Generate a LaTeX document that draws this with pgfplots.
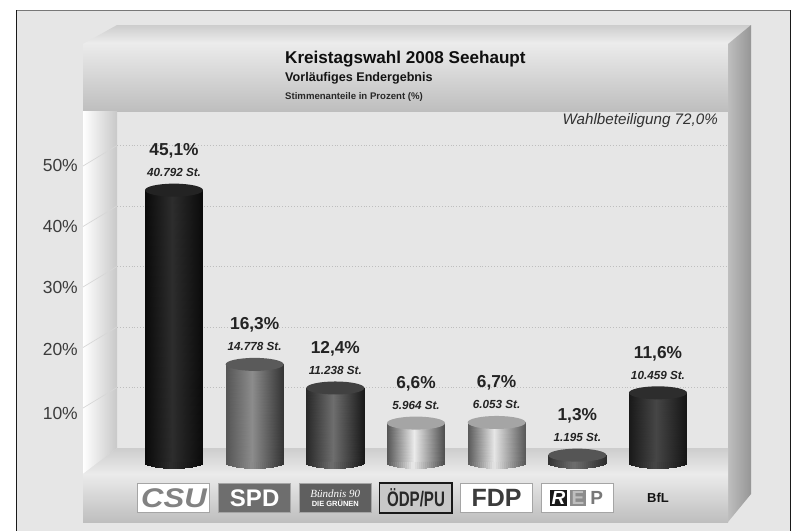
\documentclass[border=0pt]{standalone}
\usepackage{fontspec}
\setmainfont{Liberation Sans}
\newfontfamily\serifbf{Liberation Serif}
\usepackage{pgfplots}
\pgfplotsset{compat=1.18}
% grey levels (0-255)
\newcommand\dg[1]{\pgfmathsetmacro\tmpg{#1/255}\definecolor{g#1}{gray}{\tmpg}}
\dg{10}\dg{15}\dg{20}\dg{25}\dg{35}\dg{40}\dg{45}\dg{50}\dg{60}\dg{65}\dg{70}\dg{75}\dg{80}\dg{85}\dg{90}\dg{95}\dg{110}\dg{120}\dg{130}\dg{140}\dg{150}\dg{160}\dg{165}\dg{175}\dg{185}\dg{190}\dg{195}\dg{200}\dg{205}\dg{215}\dg{230}\dg{235}\dg{238}
\newcommand\defcyl[5]{%
  \pgfdeclareplotmark{bot#1}{%
    \foreach \i in {0,...,28}{%
      \pgfmathsetmacro\xa{-29+2*\i}%
      \pgfmathsetmacro\xb{\xa+2.15}%
      \pgfmathsetmacro\tm{(\xa+1)/29}%
      \pgfmathsetmacro\dep{6*sqrt(max(0,1-\tm*\tm))}%
      \pgfmathsetmacro\gr{(\tm<-0.1 ? #2+(#3-#2)*(\tm+1)/0.9 : #3+(#4-#3)*(\tm+0.1)/1.1)/255}%
      \definecolor{strip}{gray}{\gr}%
      \pgfsetfillcolor{strip}%
      \pgfpathrectanglecorners{\pgfpoint{\xa pt}{1pt}}{\pgfpoint{\xb pt}{-\dep pt}}%
      \pgfusepath{fill}%
    }%
  }%
  \pgfdeclareplotmark{top#1}{\pgfsetfillcolor{#5}\pgfpathellipse{\pgfpointorigin}{\pgfpoint{29pt}{0pt}}{\pgfpoint{0pt}{6.5pt}}\pgfusepath{fill}}%
}
\defcyl{csu}{10}{45}{10}{g35}
\defcyl{spd}{85}{140}{50}{g90}
\defcyl{gru}{40}{110}{25}{g65}
\defcyl{oedp}{85}{235}{75}{g165}
\defcyl{fdp}{90}{230}{85}{g165}
\defcyl{rep}{50}{110}{45}{g85}
\defcyl{bfl}{25}{70}{20}{g45}
% #1 x, #2 value, #3 mid colour
\newcommand\cyl[3]{%
  \addplot[ybar,bar width=58pt,bar shift=0pt,draw=none,fill=#3] coordinates {(#1,#2)};
}
\newcommand\cylbody[7]{% x0,xm,x1,v,L,M,R
  \addplot[patch,patch type=rectangle,shader=interp,point meta=explicit,forget plot] coordinates {
    (#1,0) [#5] (#2,0) [#6] (#2,#4) [#6] (#1,#4) [#5]
    (#2,0) [#6] (#3,0) [#7] (#3,#4) [#7] (#2,#4) [#6]
  };
}
% #1 x, #2 value, #3 style, #4 percent, #5 votes
\newcommand\cylcaps[5]{%
  \addplot[only marks,mark=bot#3] coordinates {(#1,0)};
  \addplot[only marks,mark=top#3,
    nodes near coords={{\fontsize{17.3}{21}\selectfont\bfseries #4}\\[9pt]{\fontsize{11.7}{14}\selectfont\bfseries\itshape #5}},
    every node near coord/.append style={anchor=center,yshift=30pt,align=center,text=g35,inner sep=0pt}]
    coordinates {(#1,#2)};
}
\newcommand\logo[5][1pt]{\setlength\fboxsep{0pt}\setlength\fboxrule{#1}\fcolorbox{#2}{#3}{\parbox[c][28pt][c]{71pt}{\centering\color{#4}#5}}}
\newcommand\logoGru{\logo{g165}{g95}{white}{{\serifbf\fontsize{11}{12}\selectfont\itshape Bündnis 90}\\[1pt]\fontsize{7.5}{8}\selectfont\upshape\bfseries DIE GRÜNEN}}
\newcommand\logoRep{\logo{g165}{white}{g25}{\fontsize{19}{20}\selectfont\bfseries\setlength\fboxsep{1.5pt}\colorbox{g25}{\color{white}\itshape R}\,\colorbox{g140}{\color{g190}E}\,\colorbox{white}{\color{g120}P}}}
\begin{document}
\begin{tikzpicture}
\begin{scope}[x=1pt,y=-1pt]
  \useasboundingbox (0,0) rectangle (800,531);
  \fill[white] (0,0) rectangle (800,531);
  \fill[g230] (16,10) rectangle (790,531);
  \draw[g120,line width=1pt] (16,10) -- (790,10);
  \draw[g25,line width=1pt] (16,10) -- (16,531);
  \draw[g25,line width=1pt] (790,10) -- (790,531);
  % ceiling and header
  \path[top color=g205,bottom color=g238] (83,44) -- (117,25) -- (751,25) -- (728,44) -- cycle;
  \path[top color=g235,bottom color=g190] (83,44) rectangle (728,111);
  % left wall
  \path[left color=white,right color=g200] (83,111) -- (117,111) -- (117,448) -- (83,474) -- cycle;
  % right wall
  \path[left color=g190,right color=g150] (728,44) -- (751,25) -- (751,494) -- (728,522) -- cycle;
  % floor and front band
  \path[top color=g205,bottom color=g235] (83,474) -- (117,448) -- (728,448) -- (728,474) -- cycle;
  \path[top color=g235,bottom color=g190] (83,474) rectangle (728,522);
  % texts
  \node[anchor=west,inner sep=0pt,text=g15,font=\fontsize{17.1}{20}\selectfont\bfseries] at (285,59) {Kreistagswahl 2008 Seehaupt};
  \node[anchor=west,inner sep=0pt,text=g20,font=\fontsize{12.6}{15}\selectfont\bfseries] at (285,78) {Vorläufiges Endergebnis};
  \node[anchor=west,inner sep=0pt,text=g40,font=\fontsize{9.6}{12}\selectfont\bfseries] at (285,97) {Stimmenanteile in Prozent (\%)};
  \node[anchor=east,inner sep=0pt,text=g50,font=\fontsize{15.2}{18}\selectfont\itshape] at (718,121) {Wahlbeteiligung 72,0\%};
\end{scope}
\begin{axis}[
  at={(117pt,-463pt)},anchor=south west,
  scale only axis,width=611pt,height=352pt,
  clip=false,
  xmin=-0.7066,xmax=6.868,ymin=0,ymax=58.18,
  colormap={bw}{rgb255(0cm)=(0,0,0); rgb255(1cm)=(255,255,255)},
  point meta min=0,point meta max=255,
  axis line style={draw=none},
  tick style={draw=none},
  major tick length=0pt,
  xtick={0,1,2,3,4,5,6},
  ytick={10,20,30,40,50},
  yticklabels={\raisebox{-16.5pt}[0pt][0pt]{10\%},\raisebox{-13pt}[0pt][0pt]{20\%},\raisebox{-11.5pt}[0pt][0pt]{30\%},\raisebox{-12pt}[0pt][0pt]{40\%},\raisebox{-11.5pt}[0pt][0pt]{50\%}},
  yticklabel style={anchor=east,xshift=-39pt,inner sep=0pt,text=g60,font=\fontsize{17.5}{20}\selectfont},
  xticklabels={
    \logo{g165}{white}{g130}{\scalebox{1.15}[1]{\fontsize{27}{28}\selectfont\bfseries\itshape CSU}},
    \logo{g165}{g110}{white}{\fontsize{24}{26}\selectfont\bfseries SPD},
    \logoGru,
    \logo[1.6pt]{g25}{g200}{g40}{\scalebox{0.72}[1]{\fontsize{21}{24}\selectfont\bfseries ÖDP/PU}},
    \logo{g165}{white}{g60}{\fontsize{25}{26}\selectfont\bfseries FDP},
    \logoRep,
    {\color{g20}\fontsize{13}{15}\selectfont\bfseries BfL}},
  xticklabel style={anchor=center,yshift=-35pt,inner sep=0pt},
]
  % gridlines on the back wall and the left wall
  \addplot[g190,dotted,line width=0.9pt] coordinates {(-0.7066,52.48) (6.868,52.48)};
  \addplot[g190,dotted,line width=0.9pt] coordinates {(-0.7066,42.48) (6.868,42.48)};
  \addplot[g190,dotted,line width=0.9pt] coordinates {(-0.7066,32.48) (6.868,32.48)};
  \addplot[g190,dotted,line width=0.9pt] coordinates {(-0.7066,22.48) (6.868,22.48)};
  \addplot[g190,dotted,line width=0.9pt] coordinates {(-0.7066,12.48) (6.868,12.48)};
  \addplot[g215,line width=0.7pt] coordinates {(-0.7066,52.48) (-1.128,49.09)};
  \addplot[g215,line width=0.7pt] coordinates {(-0.7066,42.48) (-1.128,39.09)};
  \addplot[g215,line width=0.7pt] coordinates {(-0.7066,32.48) (-1.128,29.09)};
  \addplot[g215,line width=0.7pt] coordinates {(-0.7066,22.48) (-1.128,19.09)};
  \addplot[g215,line width=0.7pt] coordinates {(-0.7066,12.48) (-1.128,9.09)};
  \cyl{0}{45.1}{g45}
  \cyl{1}{16.3}{g140}
  \cyl{2}{12.4}{g110}
  \cyl{3}{6.6}{g165}
  \cyl{4}{6.7}{g165}
  \cyl{5}{1.3}{g85}
  \cyl{6}{11.6}{g70}
  \cylbody{-0.3595}{-0.03}{0.3595}{45.1}{10}{45}{10}
  \cylbody{0.6405}{0.97}{1.3595}{16.3}{85}{140}{50}
  \cylbody{1.6405}{1.97}{2.3595}{12.4}{40}{110}{25}
  \cylbody{2.6405}{2.97}{3.3595}{6.6}{85}{235}{75}
  \cylbody{3.6405}{3.97}{4.3595}{6.7}{90}{230}{85}
  \cylbody{4.6405}{4.97}{5.3595}{1.3}{50}{110}{45}
  \cylbody{5.6405}{5.97}{6.3595}{11.6}{25}{70}{20}
  \cylcaps{0}{45.1}{csu}{45,1\%}{40.792 St.}
  \cylcaps{1}{16.3}{spd}{16,3\%}{14.778 St.}
  \cylcaps{2}{12.4}{gru}{12,4\%}{11.238 St.}
  \cylcaps{3}{6.6}{oedp}{6,6\%}{5.964 St.}
  \cylcaps{4}{6.7}{fdp}{6,7\%}{6.053 St.}
  \cylcaps{5}{1.3}{rep}{1,3\%}{1.195 St.}
  \cylcaps{6}{11.6}{bfl}{11,6\%}{10.459 St.}
\end{axis}
\end{tikzpicture}
\end{document}
